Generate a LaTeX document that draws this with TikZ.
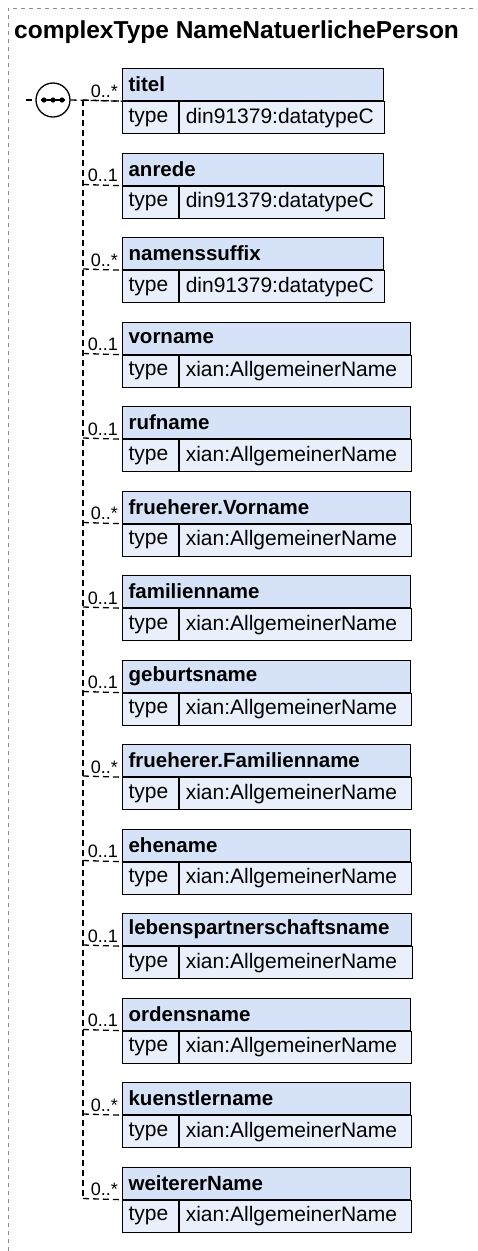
\documentclass[tikz,border=0pt]{standalone}
\usepackage{fontspec}
\setmainfont{Liberation Sans}
\usetikzlibrary{calc}

\definecolor{headblue}{RGB}{213,226,247}
\definecolor{typeblue}{RGB}{233,240,252}
\definecolor{framegray}{RGB}{140,140,140}

\begin{document}
\begin{tikzpicture}[x = 1pt, y = -1pt,
	frame/.style = {framegray, line width = 1pt, dash pattern = on 4pt off 4pt},
	conn/.style = {black, line width = 1.3pt, dash pattern = on 6pt off 4pt},
	title/.style = {inner sep = 0pt, font = \fontsize{24.5}{28}\selectfont\bfseries},
	elemhead/.style = {draw, fill = headblue, line width = 1.2pt, anchor = north west,
		minimum height = 32pt, inner xsep = 6pt, inner ysep = 0pt, align = left,
		font = \fontsize{20.5}{24}\selectfont\bfseries},
	typekey/.style = {draw, fill = typeblue, line width = 1.2pt, anchor = north west,
		minimum height = 32pt, inner xsep = 6pt, inner ysep = 0pt, align = left,
		text width = 44pt, font = \fontsize{21}{24}\selectfont},
	typeval/.style = {draw, fill = typeblue, line width = 1.2pt, anchor = north west,
		minimum height = 32pt, inner xsep = 6pt, inner ysep = 0pt, align = left,
		font = \fontsize{21}{24}\selectfont},
	mult/.style = {inner sep = 0pt, font = \fontsize{18}{20}\selectfont},
	seqcircle/.style = {draw, circle, fill = white, line width = 1.3pt, minimum size = 34pt, inner sep = 0pt}]

	% Page size and outer frame

	\useasboundingbox (0, 0) rectangle (477, 1251);
	\draw [frame] (8, 1251) -- (8, 8) -- (477, 8);

	% Title

	\node [title, anchor = base west] (title) at (14, 38) {complexType NameNatuerlichePerson};

	% Elements of the sequence

	\foreach \name/\typ/\mult/\w [count = \i from 0] in {
		titel/din91379:datatypeC/{0..*}/261,
		anrede/din91379:datatypeC/{0..1}/261,
		namenssuffix/din91379:datatypeC/{0..*}/261,
		vorname/xian:AllgemeinerName/{0..1}/288,
		rufname/xian:AllgemeinerName/{0..1}/288,
		frueherer.Vorname/xian:AllgemeinerName/{0..*}/288,
		familienname/xian:AllgemeinerName/{0..1}/288,
		geburtsname/xian:AllgemeinerName/{0..1}/288,
		frueherer.Familienname/xian:AllgemeinerName/{0..*}/288,
		ehename/xian:AllgemeinerName/{0..1}/288,
		lebenspartnerschaftsname/xian:AllgemeinerName/{0..1}/289,
		ordensname/xian:AllgemeinerName/{0..1}/288,
		kuenstlername/xian:AllgemeinerName/{0..*}/288,
		weitererName/xian:AllgemeinerName/{0..*}/288}
	{
		\pgfmathsetmacro{\T}{68 + 84.5 * \i}
		\pgfmathsetmacro{\hw}{\w - 12}
		\pgfmathsetmacro{\vw}{\w - 68}
		\node [elemhead, text width = \hw pt] (e\i) at (122, \T) {\name};
		\node [typekey] (k\i) at (e\i.south west) {type};
		\node [typeval, text width = \vw pt] (v\i) at (k\i.north east) {\typ};
		\coordinate (j\i) at (83, \T + 32);
		\draw [conn] (j\i) -- (e\i.south west);
		\node [mult, anchor = base east] (m\i) at ([xshift = -4pt, yshift = 4pt] e\i.south west) {\mult};
	}

	% Sequence symbol

	\node [seqcircle] (seq) at (53, 100) {};
	\draw [line width = 1.3pt] (41, 100) -- (65, 100);
	\foreach \d in {44, 53, 62}
		\fill (\d, 100) circle (2.6pt);

	\coordinate (seq-in) at (26, 100);
	\draw [conn] (seq-in) -- (seq.west);
	\draw [conn] (seq.east) -- (e0.south west);
	\draw [conn] (j0) -- (j13);

\end{tikzpicture}
\end{document}
